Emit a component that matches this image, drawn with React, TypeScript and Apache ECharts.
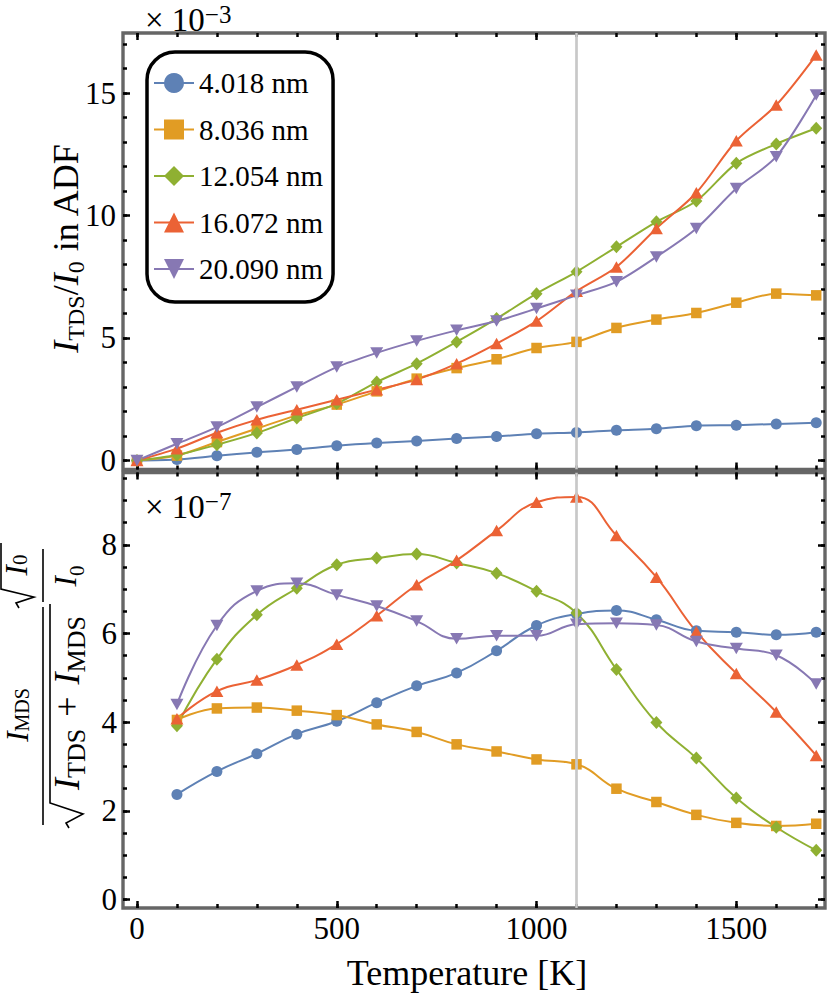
import React, { useEffect, useRef } from "react";
import * as echarts from "echarts";

const FONT = "Liberation Serif";

const sizes = ["4.018 nm", "8.036 nm", "12.054 nm", "16.072 nm", "20.090 nm"];
const colors = ["#5E81B5", "#E19C24", "#8FB032", "#EB6235", "#8778B3"];
const symbols = ["circle", "rect", "diamond", "triangle", "triangle"];
const symbolRotates = [0, 0, 0, 0, 180];
const symbolSizes: any[] = [11, 10.5, [12, 13], [13, 11.5], [13, 11.5]];

const tempsTop = [0, 100, 200, 300, 400, 500, 600, 700, 800, 900, 1000, 1100, 1200, 1300, 1400, 1500, 1600, 1700];
const tempsBottom = [100, 200, 300, 400, 500, 600, 700, 800, 900, 1000, 1100, 1200, 1300, 1400, 1500, 1600, 1700];

// I_TDS / I_0 in ADF (x 1e-3)
const tdsBlue = [0, 0.04, 0.19, 0.33, 0.45, 0.6, 0.71, 0.79, 0.9, 0.98, 1.09, 1.14, 1.23, 1.29, 1.42, 1.44, 1.49, 1.54];
const tdsOrange = [0, 0.2, 0.75, 1.3, 1.84, 2.28, 2.82, 3.34, 3.77, 4.13, 4.59, 4.84, 5.41, 5.75, 6.02, 6.44, 6.81, 6.74];
const tdsGreen = [0, 0.22, 0.64, 1.12, 1.73, 2.32, 3.2, 3.95, 4.84, 5.79, 6.81, 7.7, 8.72, 9.74, 10.59, 12.13, 12.92, 13.56];
const tdsRed = [0, 0.48, 1.13, 1.66, 2.07, 2.48, 2.89, 3.3, 3.95, 4.77, 5.69, 6.91, 7.9, 9.47, 10.93, 13.05, 14.51, 16.55];
const tdsPurple = [0, 0.68, 1.36, 2.18, 3.0, 3.81, 4.39, 4.88, 5.31, 5.69, 6.2, 6.74, 7.29, 8.31, 9.47, 11.1, 12.4, 14.92];

// MDS ratio (x 1e-7)
const mdsBlue = [2.37, 2.89, 3.29, 3.73, 4.02, 4.44, 4.82, 5.11, 5.61, 6.18, 6.44, 6.52, 6.31, 6.06, 6.03, 5.97, 6.03];
const mdsOrange = [4.05, 4.31, 4.33, 4.26, 4.16, 3.95, 3.78, 3.5, 3.34, 3.16, 3.05, 2.5, 2.2, 1.91, 1.73, 1.66, 1.71];
const mdsGreen = [3.92, 5.42, 6.42, 7.02, 7.55, 7.7, 7.79, 7.59, 7.36, 6.95, 6.46, 5.19, 3.99, 3.19, 2.29, 1.63, 1.11];
const mdsRed = [4.08, 4.7, 4.95, 5.29, 5.76, 6.4, 7.1, 7.65, 8.32, 8.96, 9.08, 8.21, 7.27, 6.04, 5.1, 4.23, 3.25];
const mdsPurple = [4.4, 6.18, 6.96, 7.13, 6.87, 6.62, 6.28, 5.88, 5.95, 5.95, 6.21, 6.23, 6.19, 5.82, 5.66, 5.51, 4.86];

const tdsSeries = [tdsBlue, tdsOrange, tdsGreen, tdsRed, tdsPurple];
const mdsSeries = [mdsBlue, mdsOrange, mdsGreen, mdsRed, mdsPurple];

const xMajorTicks = [0, 500, 1000, 1500];
const xMinorTicks = [0, 100, 200, 300, 400, 500, 600, 700, 800, 900, 1000, 1100, 1200, 1300, 1400, 1500, 1600, 1700];
const yTopMajorTicks = [0, 5, 10, 15];
const yTopMinorTicks = [0, 1, 2, 3, 4, 5, 6, 7, 8, 9, 10, 11, 12, 13, 14, 15, 16, 17];
const yBotMajorTicks = [0, 2, 4, 6, 8];
const yBotMinorTicks = [0, 0.5, 1, 1.5, 2, 2.5, 3, 3.5, 4, 4.5, 5, 5.5, 6, 6.5, 7, 7.5, 8, 8.5, 9, 9.5];

const markerTemp = 1100;

const X_MIN = -35;
const X_MAX = 1722;
const YT_MIN = -0.37;
const YT_MAX = 17.45;
const YB_MIN = -0.19;
const YB_MAX = 9.63;

const serifTok = (size: number) => ({ fontFamily: FONT, fontSize: size, color: "#000", fill: "#000" });

function mkAxis(grid: number, pos: string, ticks: number[], len: number, min: number, max: number, labels: boolean, margin: number) {
  return {
    type: "value",
    gridIndex: grid,
    position: pos,
    min,
    max,
    axisLine: { show: false, onZero: false },
    splitLine: { show: false },
    axisTick: {
      show: true,
      inside: true,
      length: len,
      customValues: ticks,
      lineStyle: { color: "#000", width: 2.5 },
    },
    axisLabel: labels
      ? {
          show: true,
          customValues: ticks,
          margin,
          fontFamily: FONT,
          fontSize: 31,
          color: "#000",
          formatter: (v: number) => "{a|" + String(v) + "}",
          rich: { a: serifTok(31) },
        }
      : { show: false },
  };
}

const richMain = (size: number, lh = 44) => ({
  i: { fontFamily: FONT, fontSize: size, fontStyle: "italic", lineHeight: lh, verticalAlign: "middle", fill: "#000" },
  r: { fontFamily: FONT, fontSize: size, lineHeight: lh, verticalAlign: "middle", fill: "#000" },
});

const sciRich = {
  m: { fontFamily: FONT, fontSize: 33, lineHeight: 36, verticalAlign: "middle", fill: "#000" },
  u: { fontFamily: FONT, fontSize: 25, lineHeight: 9, verticalAlign: "top", fill: "#000" },
};

export default function App() {
  const ref = useRef<HTMLDivElement>(null);
  useEffect(() => {
    if (!ref.current) return;
    const chart = echarts.init(ref.current, null, { renderer: "svg" });

    const xAxis = [
      mkAxis(0, "bottom", xMajorTicks, 7, X_MIN, X_MAX, false, 0),
      mkAxis(0, "bottom", xMinorTicks, 4, X_MIN, X_MAX, false, 0),
      mkAxis(0, "top", xMajorTicks, 7, X_MIN, X_MAX, false, 0),
      mkAxis(0, "top", xMinorTicks, 4, X_MIN, X_MAX, false, 0),
      {
        ...mkAxis(1, "bottom", xMajorTicks, 7, X_MIN, X_MAX, true, 5),
        name: "{t|Temperature [K]}",
        nameLocation: "middle",
        nameGap: 47,
        nameTextStyle: { fontFamily: FONT, fontSize: 36, color: "#000", padding: [0, 14, 0, 0], rich: { t: serifTok(36) } },
      },
      mkAxis(1, "bottom", xMinorTicks, 4, X_MIN, X_MAX, false, 0),
      mkAxis(1, "top", xMajorTicks, 7, X_MIN, X_MAX, false, 0),
      mkAxis(1, "top", xMinorTicks, 4, X_MIN, X_MAX, false, 0),
    ];
    const yAxis = [
      mkAxis(0, "left", yTopMajorTicks, 7, YT_MIN, YT_MAX, true, 7),
      mkAxis(0, "left", yTopMinorTicks, 4, YT_MIN, YT_MAX, false, 0),
      mkAxis(0, "right", yTopMajorTicks, 7, YT_MIN, YT_MAX, false, 0),
      mkAxis(0, "right", yTopMinorTicks, 4, YT_MIN, YT_MAX, false, 0),
      mkAxis(1, "left", yBotMajorTicks, 7, YB_MIN, YB_MAX, true, 6),
      mkAxis(1, "left", yBotMinorTicks, 4, YB_MIN, YB_MAX, false, 0),
      mkAxis(1, "right", yBotMajorTicks, 7, YB_MIN, YB_MAX, false, 0),
      mkAxis(1, "right", yBotMinorTicks, 4, YB_MIN, YB_MAX, false, 0),
    ];

    const refLine = (xi: number, yi: number) => ({
      type: "line",
      xAxisIndex: xi,
      yAxisIndex: yi,
      data: [],
      silent: true,
      markLine: {
        silent: true,
        symbol: ["none", "none"],
        label: { show: false },
        lineStyle: { color: "#c8c8c8", width: 2.7, type: "solid" },
        data: [{ xAxis: markerTemp }],
      },
    });

    const series: any[] = [refLine(0, 0), refLine(4, 4)];
    sizes.forEach((name, k) => {
      const common = {
        type: "line",
        name,
        symbol: symbols[k],
        symbolRotate: symbolRotates[k],
        symbolSize: symbolSizes[k],
        showAllSymbol: true,
        lineStyle: { color: colors[k], width: 2 },
        itemStyle: { color: colors[k] },
        emphasis: { disabled: true },
      };
      series.push({
        ...common,
        xAxisIndex: 0,
        yAxisIndex: 0,
        smooth: 0.3,
        data: tempsTop.map((t, i) => [t, tdsSeries[k][i]]),
      });
      series.push({
        ...common,
        xAxisIndex: 4,
        yAxisIndex: 4,
        smooth: 0.45,
        data: tempsBottom.map((t, i) => [t, mdsSeries[k][i]]),
      });
    });

    const lw = 1.6;
    const graphic: any[] = [
      {
        type: "text",
        x: 145,
        y: 19.5,
        style: { text: "{m|× 10}{u|−3}", verticalAlign: "middle", align: "left", rich: sciRich },
      },
      {
        type: "text",
        x: 145,
        y: 506.5,
        style: { text: "{m|× 10}{u|−7}", verticalAlign: "middle", align: "left", rich: sciRich },
      },
      {
        type: "text",
        x: 66,
        y: 248,
        rotation: Math.PI / 2,
        style: {
          text: "{i|I}{s|TDS}{r|/}{i|I}{s|0}{r| in ADF}",
          align: "center",
          verticalAlign: "middle",
          rich: {
            ...richMain(36),
            s: { fontFamily: FONT, fontSize: 24, lineHeight: 20, verticalAlign: "bottom", fill: "#000" },
          },
        },
      },
      {
        type: "group",
        x: 43,
        y: 715,
        rotation: Math.PI / 2,
        children: [
          { type: "line", shape: { x1: -110, y1: 0, x2: 108, y2: 0 }, style: { stroke: "#000", lineWidth: lw } },
          {
            type: "text",
            x: 0,
            y: -26,
            style: {
              text: "{i|I}{s|MDS}",
              align: "center",
              verticalAlign: "middle",
              rich: {
                ...richMain(31, 30),
                s: { fontFamily: FONT, fontSize: 20, lineHeight: 6, verticalAlign: "bottom", fill: "#000" },
              },
            },
          },
          {
            type: "polyline",
            shape: { points: [[-113, 26], [-108, 23], [-99, 40], [-88, 7], [111, 7]] },
            style: { stroke: "#000", lineWidth: lw, fill: null },
          },
          {
            type: "text",
            x: 12,
            y: 24,
            style: {
              text: "{i|I}{s|TDS}{p|+}{i|I}{s|MDS}",
              align: "center",
              verticalAlign: "middle",
              rich: {
                ...richMain(36),
                s: { fontFamily: FONT, fontSize: 26, lineHeight: 20, verticalAlign: "bottom", fill: "#000" },
                p: { fontFamily: FONT, fontSize: 36, lineHeight: 44, verticalAlign: "middle", padding: [0, 12, 0, 12], fill: "#000" },
              },
            },
          },
          { type: "line", shape: { x1: 113, y1: 0, x2: 166, y2: 0 }, style: { stroke: "#000", lineWidth: lw } },
          {
            type: "polyline",
            shape: { points: [[107, -24], [112, -27], [118, -9], [126, -42], [172, -42]] },
            style: { stroke: "#000", lineWidth: lw, fill: null },
          },
          {
            type: "text",
            x: 150,
            y: -27,
            style: {
              text: "{i|I}{s|0}",
              align: "center",
              verticalAlign: "middle",
              rich: {
                ...richMain(31, 28),
                s: { fontFamily: FONT, fontSize: 21, lineHeight: 6, verticalAlign: "bottom", fill: "#000" },
              },
            },
          },
          {
            type: "text",
            x: 139,
            y: 22,
            style: {
              text: "{i|I}{s|0}",
              align: "center",
              verticalAlign: "middle",
              rich: {
                ...richMain(31),
                s: { fontFamily: FONT, fontSize: 21, lineHeight: 20, verticalAlign: "bottom", fill: "#000" },
              },
            },
          },
        ],
      },
    ];

    chart.setOption({
      animation: false,
      backgroundColor: "#fff",
      textStyle: { fontFamily: FONT },
      grid: [
        { left: 123, top: 33, width: 702, height: 436.5, show: true, borderColor: "#666", borderWidth: 3.4, backgroundColor: "transparent", containLabel: false },
        { left: 123, top: 472.5, width: 702, height: 435.5, show: true, borderColor: "#666", borderWidth: 3.4, backgroundColor: "transparent", containLabel: false },
      ],
      xAxis,
      yAxis,
      legend: {
        data: sizes,
        orient: "vertical",
        left: 147,
        top: 52,
        padding: [16, 10, 18, 6],
        itemGap: 16.5,
        itemWidth: 40,
        itemHeight: 25,
        borderColor: "#000",
        borderWidth: 3.5,
        borderRadius: 28,
        backgroundColor: "#fff",
        selectedMode: false,
        formatter: (name: string) => "{a|" + name + "}",
        textStyle: {
          fontFamily: FONT,
          fontSize: 29,
          color: "#000",
          lineHeight: 30,
          rich: { a: { ...serifTok(29), lineHeight: 30 } },
        },
      },
      series,
      graphic,
    });
    return () => chart.dispose();
  }, []);
  return (
    <div
      ref={ref}
      style={{ position: "fixed", left: 0, top: 0, width: 831, height: 996, background: "#fff" }}
    />
  );
}
